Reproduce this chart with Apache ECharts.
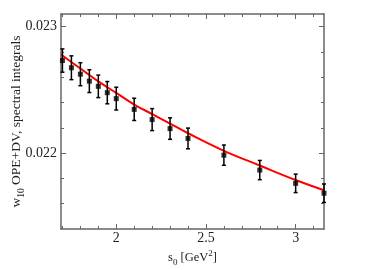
<!DOCTYPE html>
<html><head><meta charset="utf-8">
<script src="https://cdn.jsdelivr.net/npm/echarts@6/dist/echarts.min.js"></script>
<style>html,body{margin:0;padding:0;background:#fff}#c{width:382px;height:270px}</style>
</head><body><div id="c"></div>
<script>
// data points
const s0 = [1.7, 1.75, 1.8, 1.85, 1.9, 1.95, 2.0, 2.1, 2.2, 2.3, 2.4, 2.6, 2.8, 3.0, 3.158];
const w10 = [0.022732, 0.022675, 0.022624, 0.022569, 0.022528, 0.022478, 0.022431, 0.022346, 0.022265, 0.022194, 0.022116, 0.021984, 0.021866, 0.021761, 0.021683];
const w10Err = [0.000092, 0.000094, 0.000091, 0.00009, 0.000089, 0.000088, 0.00009, 0.000088, 0.000087, 0.000085, 0.000082, 0.00008, 0.000076, 0.000073, 0.000073];
// fit curve
const fitS = [1.692, 1.8, 1.9, 2.0, 2.1, 2.2, 2.3, 2.4, 2.6, 2.8, 3.0, 3.158];
const fitW = [0.02278, 0.022669, 0.022567, 0.022476, 0.022384, 0.022309, 0.022233, 0.022157, 0.022018, 0.021902, 0.021787, 0.021706];
// ticks
const xMajor = [2, 2.5, 3];
const xMinor = [1.7, 1.8, 1.9, 2.1, 2.2, 2.3, 2.4, 2.6, 2.7, 2.8, 2.9, 3.1];
const yMajor = [0.022, 0.023];
const yMinor = [0.0216, 0.0218, 0.0222, 0.0224, 0.0226, 0.0228];
const xRange = [1.692, 3.158];
const yRange = [0.0214, 0.0231];

const FONT = 'Liberation Serif';
const AX = '#666';
const TXT = '#222';

function xAx(pos, ticks, len, labels, line) {
  return {
    type: 'value', position: pos, min: xRange[0], max: xRange[1],
    axisLine: {show: line, onZero: false, lineStyle: {color: AX, width: 1.5}},
    axisTick: {show: true, inside: true, length: len, customValues: ticks, lineStyle: {color: AX, width: 1}},
    axisLabel: labels ? {show: true, customValues: ticks, margin: 2, color: TXT, fontFamily: FONT, fontSize: 14,
      formatter: v => String(+v.toFixed(3))} : {show: false},
    splitLine: {show: false}
  };
}
function yAx(pos, ticks, len, labels, line) {
  return {
    type: 'value', position: pos, min: yRange[0], max: yRange[1],
    axisLine: {show: line, onZero: false, lineStyle: {color: AX, width: 1.5}},
    axisTick: {show: true, inside: true, length: len, customValues: ticks, lineStyle: {color: AX, width: 1}},
    axisLabel: labels ? {show: true, customValues: ticks, margin: 4, color: TXT, fontFamily: FONT, fontSize: 14,
      formatter: v => v.toFixed(3)} : {show: false},
    splitLine: {show: false}
  };
}

const xs = [xAx('bottom', xMajor, 5, true, true), xAx('bottom', xMinor, 3, false, false),
            xAx('top', xMajor, 5, false, true), xAx('top', xMinor, 3, false, false)];
xs[0].name = '{a|s}{s|0}{a| [GeV}{p|2}{a|]}';
xs[0].nameLocation = 'middle';
xs[0].nameGap = 20;
xs[0].nameMoveOverlap = false;
xs[0].nameTextStyle = {rich: {
  a: {fontFamily: FONT, fontSize: 12.5, color: TXT},
  s: {fontFamily: FONT, fontSize: 9, color: TXT, padding: [9, 0, 0, 0]},
  p: {fontFamily: FONT, fontSize: 9, color: TXT, padding: [0, 0, 9, 0]}
}};
const ys = [yAx('left', yMajor, 5, true, true), yAx('left', yMinor, 3, false, false),
            yAx('right', yMajor, 5, false, true), yAx('right', yMinor, 3, false, false)];
ys[0].name = '{a|w}{s|10}{a| OPE+DV, spectral integrals}';
ys[0].nameLocation = 'middle';
ys[0].nameGap = 35;
ys[0].nameMoveOverlap = false;
ys[0].nameTextStyle = {rich: {
  a: {fontFamily: FONT, fontSize: 13.5, color: TXT},
  s: {fontFamily: FONT, fontSize: 9.5, color: TXT, padding: [9, 0, 0, 0]}
}};

const pts = s0.map((s, i) => [s, w10[i]]);
const errData = s0.map((s, i) => [s, w10[i] - w10Err[i], w10[i] + w10Err[i]]);
const fit = fitS.map((s, i) => [s, fitW[i]]);

const chart = echarts.init(document.getElementById('c'), null, {renderer: 'canvas'});
chart.setOption({
  animation: false,
  backgroundColor: '#fff',
  grid: {left: 61, right: 58, top: 14, bottom: 41, containLabel: false, outerBoundsMode: 'none'},
  xAxis: xs,
  yAxis: ys,
  series: [
    {type: 'line', data: fit, smooth: 0.4, showSymbol: false, symbol: 'none',
     lineStyle: {color: '#ff0000', width: 2}, xAxisIndex: 0, yAxisIndex: 0, z: 3},
    {type: 'custom', data: errData, xAxisIndex: 0, yAxisIndex: 0, z: 4,
     renderItem: function (params, api) {
       const x = api.value(0);
       const lo = api.coord([x, api.value(1)]);
       const hi = api.coord([x, api.value(2)]);
       const cw = 2;
       const st = {stroke: '#000', lineWidth: 1.5};
       return {type: 'group', children: [
         {type: 'line', shape: {x1: lo[0], y1: lo[1], x2: hi[0], y2: hi[1]}, style: st},
         {type: 'line', shape: {x1: lo[0] - cw, y1: lo[1], x2: lo[0] + cw, y2: lo[1]}, style: st},
         {type: 'line', shape: {x1: hi[0] - cw, y1: hi[1], x2: hi[0] + cw, y2: hi[1]}, style: st}
       ]};
     }},
    {type: 'scatter', data: pts, symbol: 'rect', symbolSize: 5, itemStyle: {color: '#000'},
     xAxisIndex: 0, yAxisIndex: 0, z: 5}
  ]
});
</script></body></html>
